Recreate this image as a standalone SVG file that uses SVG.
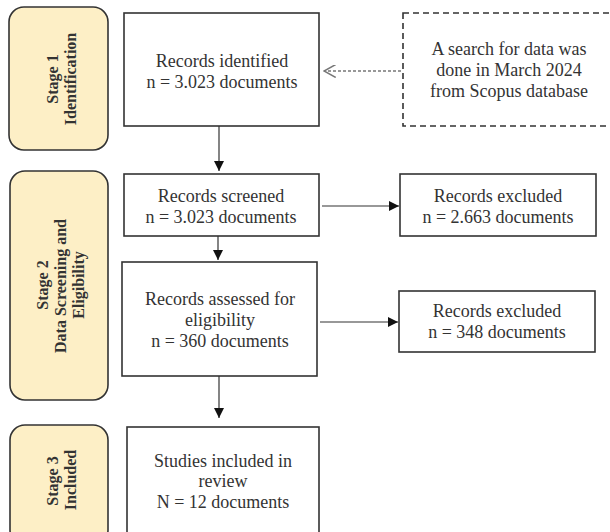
<svg xmlns="http://www.w3.org/2000/svg" width="610" height="532" viewBox="0 0 610 532">
<style>
.stage{fill:#fdefc6;stroke:#333;stroke-width:1.6}
.box{fill:#fff;stroke:#333;stroke-width:1.6}
.dash{fill:#fff;stroke:#333;stroke-width:1.6;stroke-dasharray:6 4}
text{font-family:'Liberation Serif','DejaVu Serif',serif;fill:#333;text-anchor:middle}
.t{font-size:18px}
.s{font-size:16px;font-weight:bold}
.c{stroke:#333;stroke-width:1.2;fill:none}
</style>
<defs>
<marker id="ah" viewBox="0 0 10 10" refX="10" refY="5" markerWidth="10" markerHeight="10" markerUnits="userSpaceOnUse" orient="auto">
<path d="M0,0 L10,5 L0,10 z" fill="#111"/>
</marker>
<marker id="oh" viewBox="0 0 10 10" refX="9" refY="5" markerWidth="13" markerHeight="13" markerUnits="userSpaceOnUse" orient="auto">
<path d="M0,0 L9,5 L0,10" fill="none" stroke="#777" stroke-width="1.1"/>
</marker>
</defs>
<g id="stage1">
<rect class="stage" x="9" y="7" width="99" height="143" rx="15"/>
<text class="s" transform="translate(58,79) rotate(-90)">Stage 1</text>
<text class="s" transform="translate(76,79) rotate(-90)">Identification</text>
</g>
<g id="stage2">
<rect class="stage" x="10" y="171" width="98" height="229" rx="15"/>
<text class="s" transform="translate(48,285) rotate(-90)">Stage 2</text>
<text class="s" transform="translate(66,286) rotate(-90)">Data Screening and</text>
<text class="s" transform="translate(84,285) rotate(-90)">Eligibility</text>
</g>
<g id="stage3">
<rect class="stage" x="10" y="425" width="98" height="120" rx="15"/>
<text class="s" transform="translate(58,481) rotate(-90)">Stage 3</text>
<text class="s" transform="translate(76,480) rotate(-90)">Included</text>
</g>
<g id="identified">
<rect class="box" x="124" y="13" width="195" height="113"/>
<text class="t" x="222" y="67">Records identified</text>
<text class="t" x="222" y="88">n = 3.023 documents</text>
</g>
<g id="search">
<rect class="dash" x="403" y="13" width="215" height="113"/>
<text class="t" x="509" y="55">A search for data was</text>
<text class="t" x="509" y="76">done in March 2024</text>
<text class="t" x="509" y="97">from Scopus database</text>
</g>
<g id="screened">
<rect class="box" x="124" y="174" width="195" height="62"/>
<text class="t" x="221" y="202">Records screened</text>
<text class="t" x="221" y="223">n = 3.023 documents</text>
</g>
<g id="excluded1">
<rect class="box" x="400" y="174" width="196" height="62"/>
<text class="t" x="498" y="202">Records excluded</text>
<text class="t" x="498" y="223">n = 2.663 documents</text>
</g>
<g id="assessed">
<rect class="box" x="122" y="262" width="195" height="114"/>
<text class="t" x="220" y="305">Records assessed for</text>
<text class="t" x="220" y="326">eligibility</text>
<text class="t" x="220" y="347">n = 360 documents</text>
</g>
<g id="excluded2">
<rect class="box" x="399" y="291" width="196" height="61"/>
<text class="t" x="497" y="317">Records excluded</text>
<text class="t" x="497" y="338">n = 348 documents</text>
</g>
<g id="included">
<rect class="box" x="127" y="427" width="192" height="120"/>
<text class="t" x="223" y="467">Studies included in</text>
<text class="t" x="223" y="487">review</text>
<text class="t" x="223" y="508">N = 12 documents</text>
</g>
<g id="connectors">
<line class="c" x1="219" y1="126" x2="219" y2="171" marker-end="url(#ah)"/>
<line class="c" x1="401" y1="71" x2="324" y2="71" stroke="#777" stroke-dasharray="3 2" marker-end="url(#oh)"/>
<line class="c" x1="218" y1="236" x2="218" y2="260" marker-end="url(#ah)"/>
<line class="c" x1="322" y1="206" x2="399" y2="206" marker-end="url(#ah)"/>
<line class="c" x1="320" y1="322" x2="398" y2="322" marker-end="url(#ah)"/>
<line class="c" x1="219" y1="376" x2="219" y2="418" marker-end="url(#ah)"/>
</g>
</svg>
